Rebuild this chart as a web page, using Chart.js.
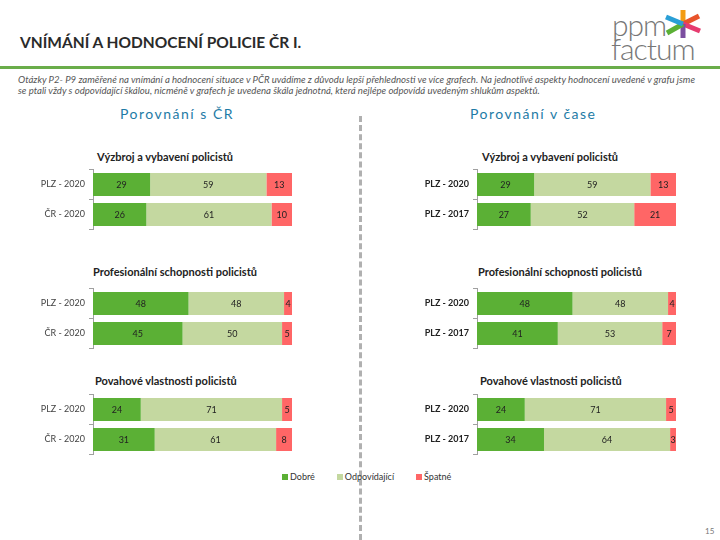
<!DOCTYPE html>
<html>
<head>
<meta charset="utf-8">
<script src="https://cdn.jsdelivr.net/npm/chart.js@4"></script>
<style>
  body { margin: 0; width: 720px; height: 540px; position: relative; background: #fff; font-family: Lato, "Open Sans", sans-serif; overflow: hidden; }
  .abs { position: absolute; white-space: nowrap; }
  #title { left: 20px; top: 33px; font-size: 15.5px; color: #2a2a2a; font-weight: bold; }
  #rule { left: 0; top: 66px; width: 720px; height: 3px; background: #6aad4a; }
  #note { left: 18px; top: 74px; font-size: 9.6px; font-style: italic; color: #555; line-height: 11px; }
  .section { top: 105px; font-size: 14px; color: #1e7ba6; letter-spacing: 1.5px; }
  #divider { left: 359px; top: 116px; height: 424px; border-left: 3px dashed #b0b0b0; }
  .ctitle { font-size: 11px; font-weight: bold; color: #222; }
  canvas { position: absolute; }
  #legend { left: 282px; top: 471px; font-size: 9px; color: #333; }
  #legend span.sw { display: inline-block; width: 6px; height: 6px; margin-right: 2px; vertical-align: 0px; }
  #legend span.item { margin-right: 22px; }
  #page { left: 705px; top: 526px; font-size: 8px; color: #777; }
  #logo1 { left: 612px; top: 6px; font-size: 30px; color: #777; font-weight: 300; letter-spacing: -1px; }
  #logo2 { left: 611px; top: 30px; font-size: 30px; color: #777; font-weight: 300; letter-spacing: -1px; }
</style>
</head>
<body>
<div class="abs" id="title">VNÍMÁNÍ A HODNOCENÍ POLICIE ČR I.</div>
<div class="abs" id="logo1">ppm</div>
<div class="abs" id="logo2">factum</div>
<svg class="abs" style="left:662px;top:9px" width="42" height="30" viewBox="0 0 42 30">
  <g stroke-width="5" stroke-linecap="butt">
    <line x1="21" y1="15" x2="21" y2="1" stroke="#f39c12"/>
    <line x1="21" y1="15" x2="37" y2="7" stroke="#e8542b"/>
    <line x1="21" y1="15" x2="38" y2="22" stroke="#e63b6f"/>
    <line x1="21" y1="15" x2="21" y2="29" stroke="#7b4fa0"/>
    <line x1="21" y1="15" x2="5" y2="24" stroke="#5bb035"/>
    <line x1="21" y1="15" x2="4" y2="8" stroke="#2a9fd6"/>
  </g>
</svg>
<div class="abs" id="rule"></div>
<div class="abs" id="note">Otázky P2- P9 zaměřené na vnímání a hodnocení situace v PČR uvádíme z důvodu lepší přehlednosti ve více grafech. Na jednotlivé aspekty hodnocení uvedené v grafu jsme<br>se ptali vždy s odpovídající škálou, nicméně v grafech je uvedena škála jednotná, která nejlépe odpovídá uvedeným shlukům aspektů.</div>
<div class="abs section" style="left:120px">Porovnání s ČR</div>
<div class="abs section" style="left:470px">Porovnání v čase</div>
<div class="abs" id="divider"></div>

<div class="abs ctitle" style="left:97px;top:150px">Výzbroj a vybavení policistů</div>
<div class="abs ctitle" style="left:93px;top:265px">Profesionální schopnosti policistů</div>
<div class="abs ctitle" style="left:95px;top:374px">Povahové vlastnosti policistů</div>
<div class="abs ctitle" style="left:482px;top:150px">Výzbroj a vybavení policistů</div>
<div class="abs ctitle" style="left:478px;top:265px">Profesionální schopnosti policistů</div>
<div class="abs ctitle" style="left:480px;top:374px">Povahové vlastnosti policistů</div>

<canvas id="c1" width="270" height="79" style="left:30px;top:160px"></canvas>
<canvas id="c2" width="270" height="79" style="left:30px;top:279px"></canvas>
<canvas id="c3" width="270" height="79" style="left:30px;top:385px"></canvas>
<canvas id="c4" width="284" height="79" style="left:400px;top:160px"></canvas>
<canvas id="c5" width="284" height="79" style="left:400px;top:279px"></canvas>
<canvas id="c6" width="284" height="79" style="left:400px;top:385px"></canvas>

<div class="abs" id="legend"></div>
<div class="abs" id="page">15</div>

<script>
// categories
const categoriesCR = ["PLZ - 2020", "ČR - 2020"];
const categoriesTime = ["PLZ - 2020", "PLZ - 2017"];
const seriesNames = ["Dobré", "Odpovídající", "Špatné"];
const seriesColors = ["#5bb035", "#c4d8a0", "#ff6666"];

// values per row: [Dobré, Odpovídající, Špatné]
const vyzbrojCR = [[29, 59, 13], [26, 61, 10]];
const profesniCR = [[48, 48, 4], [45, 50, 5]];
const povahaCR = [[24, 71, 5], [31, 61, 8]];
const vyzbrojTime = [[29, 59, 13], [27, 52, 21]];
const profesniTime = [[48, 48, 4], [41, 53, 7]];
const povahaTime = [[24, 71, 5], [34, 64, 3]];

/*
 * draws the numbers in the middle of each bar segment
 */
const valueLabels = {
  id: "valueLabels",
  afterDatasetsDraw(chart) {
    const ctx = chart.ctx;
    ctx.save();
    ctx.font = "9px Lato, sans-serif";
    ctx.fillStyle = "#222";
    ctx.textAlign = "center";
    ctx.textBaseline = "middle";
    chart.data.datasets.forEach((ds, i) => {
      chart.getDatasetMeta(i).data.forEach((bar, j) => {
        const p = bar.getProps(["x", "y", "base"], true);
        ctx.fillText(ds.raw[j], (p.x + p.base) / 2, p.y + 1);
      });
    });
    ctx.restore();
  }
};

// 100% stacked, like the original
function makeChart(id, categories, rows, axisWidth, boldLabels) {
  const datasets = seriesNames.map((name, k) => ({
    label: name,
    data: rows.map(r => r[k] / (r[0] + r[1] + r[2]) * 100),
    raw: rows.map(r => r[k]),
    backgroundColor: seriesColors[k],
    barPercentage: 0.76,
    categoryPercentage: 1
  }));
  return new Chart(document.getElementById(id), {
    type: "bar",
    data: { labels: categories, datasets: datasets },
    options: {
      indexAxis: "y",
      responsive: false,
      animation: false,
      devicePixelRatio: 1,
      layout: { padding: { top: 3, bottom: 6, right: 8, left: 0 } },
      plugins: { legend: { display: false }, tooltip: { enabled: false } },
      scales: {
        x: { stacked: true, min: 0, max: 100, display: false },
        y: {
          stacked: true,
          afterFit: s => { s.width = axisWidth; },
          grid: { drawOnChartArea: false, tickLength: 4, color: "#a0a0a0", offset: true },
          border: { color: "#a0a0a0" },
          ticks: {
            color: boldLabels ? "#222" : "#444",
            padding: 4,
            font: { family: "Lato", size: 9, weight: boldLabels ? "bold" : "normal" }
          }
        }
      }
    },
    plugins: [valueLabels]
  });
}

makeChart("c1", categoriesCR, vyzbrojCR, 63, false);
makeChart("c2", categoriesCR, profesniCR, 63, false);
makeChart("c3", categoriesCR, povahaCR, 63, false);
makeChart("c4", categoriesTime, vyzbrojTime, 77, true);
makeChart("c5", categoriesTime, profesniTime, 77, true);
makeChart("c6", categoriesTime, povahaTime, 77, true);

// legend
document.getElementById("legend").innerHTML = seriesNames.map((n, k) =>
  `<span class="item"><span class="sw" style="background:${seriesColors[k]}"></span>${n}</span>`
).join("");
</script>
</body>
</html>
